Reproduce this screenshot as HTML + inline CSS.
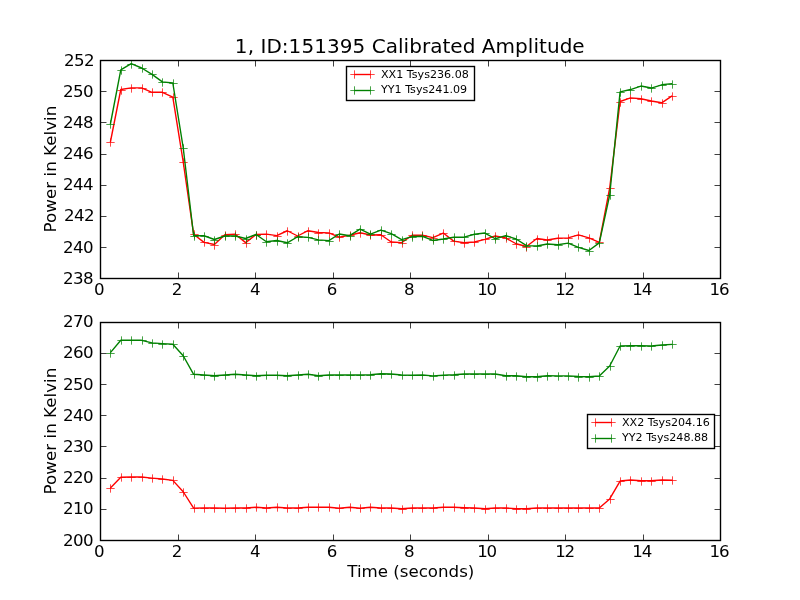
<!DOCTYPE html>
<html><head><meta charset="utf-8"><title>1, ID:151395 Calibrated Amplitude</title>
<style>
html,body{margin:0;padding:0;background:#fff;}
svg{display:block;}
text{font-family:"DejaVu Sans","Liberation Sans",sans-serif;fill:#000;}
.t{font-size:16.67px;}
.n{font-size:16.67px;letter-spacing:-0.6px;}
.l{font-size:11.11px;}
.ti{font-size:20px;letter-spacing:0.045px;}
</style></head><body>
<svg width="800" height="600" viewBox="0 0 800 600">
<rect width="800" height="600" fill="#fff"/>
<text x="409.8" y="53" text-anchor="middle" class="ti">1, ID:151395 Calibrated Amplitude</text>
<polyline fill="none" stroke="#ff0000" stroke-width="1.39" stroke-linejoin="round" points="110.40,142.00 120.80,89.50 131.21,87.90 141.61,87.90 152.01,92.30 162.41,92.30 172.81,97.20 183.21,161.90 193.62,234.25 204.02,242.40 214.42,244.50 224.82,234.75 235.22,234.25 245.63,242.60 256.03,234.50 266.43,234.10 276.83,235.60 287.23,230.75 297.64,236.00 308.04,230.70 318.44,232.50 328.84,232.85 339.24,237.10 349.64,235.30 360.05,232.80 370.45,235.05 380.85,234.80 391.25,242.00 401.65,242.60 412.06,235.25 422.46,235.25 432.86,237.60 443.26,233.05 453.66,241.15 464.07,242.80 474.47,241.95 484.87,239.40 495.27,236.00 505.67,237.90 516.07,243.75 526.48,246.50 536.88,238.55 547.28,240.00 557.68,238.20 568.08,237.90 578.49,234.95 588.89,237.90 599.29,242.30 609.69,188.00 620.09,101.50 630.50,97.90 640.90,98.75 651.30,101.00 661.70,102.80 672.10,95.90"/>
<path fill="none" stroke="#ff0000" stroke-width="0.72" d="M106.33 142.5H114.67M110.5 138.33V146.67M117.33 90.5H125.67M121.5 86.33V94.67M127.33 88.5H135.67M131.5 84.33V92.67M138.33 88.5H146.67M142.5 84.33V92.67M148.33 92.5H156.67M152.5 88.33V96.67M158.33 92.5H166.67M162.5 88.33V96.67M169.33 97.5H177.67M173.5 93.33V101.67M179.33 162.5H187.67M183.5 158.33V166.67M190.33 234.5H198.67M194.5 230.33V238.67M200.33 242.5H208.67M204.5 238.33V246.67M210.33 245.5H218.67M214.5 241.33V249.67M221.33 235.5H229.67M225.5 231.33V239.67M231.33 234.5H239.67M235.5 230.33V238.67M242.33 243.5H250.67M246.5 239.33V247.67M252.33 235.5H260.67M256.5 231.33V239.67M262.33 234.5H270.67M266.5 230.33V238.67M273.33 236.5H281.67M277.5 232.33V240.67M283.33 231.5H291.67M287.5 227.33V235.67M294.33 236.5H302.67M298.5 232.33V240.67M304.33 231.5H312.67M308.5 227.33V235.67M314.33 233.5H322.67M318.5 229.33V237.67M325.33 233.5H333.67M329.5 229.33V237.67M335.33 237.5H343.67M339.5 233.33V241.67M346.33 235.5H354.67M350.5 231.33V239.67M356.33 233.5H364.67M360.5 229.33V237.67M366.33 235.5H374.67M370.5 231.33V239.67M377.33 235.5H385.67M381.5 231.33V239.67M387.33 242.5H395.67M391.5 238.33V246.67M398.33 243.5H406.67M402.5 239.33V247.67M408.33 235.5H416.67M412.5 231.33V239.67M418.33 235.5H426.67M422.5 231.33V239.67M429.33 238.5H437.67M433.5 234.33V242.67M439.33 233.5H447.67M443.5 229.33V237.67M450.33 241.5H458.67M454.5 237.33V245.67M460.33 243.5H468.67M464.5 239.33V247.67M470.33 242.5H478.67M474.5 238.33V246.67M481.33 239.5H489.67M485.5 235.33V243.67M491.33 236.5H499.67M495.5 232.33V240.67M502.33 238.5H510.67M506.5 234.33V242.67M512.33 244.5H520.67M516.5 240.33V248.67M522.33 247.5H530.67M526.5 243.33V251.67M533.33 239.5H541.67M537.5 235.33V243.67M543.33 240.5H551.67M547.5 236.33V244.67M554.33 238.5H562.67M558.5 234.33V242.67M564.33 238.5H572.67M568.5 234.33V242.67M574.33 235.5H582.67M578.5 231.33V239.67M585.33 238.5H593.67M589.5 234.33V242.67M595.33 242.5H603.67M599.5 238.33V246.67M606.33 188.5H614.67M610.5 184.33V192.67M616.33 102.5H624.67M620.5 98.33V106.67M626.33 98.5H634.67M630.5 94.33V102.67M637.33 99.5H645.67M641.5 95.33V103.67M647.33 101.5H655.67M651.5 97.33V105.67M658.33 103.5H666.67M662.5 99.33V107.67M668.33 96.5H676.67M672.5 92.33V100.67"/>
<polyline fill="none" stroke="#008000" stroke-width="1.39" stroke-linejoin="round" points="110.40,124.00 120.80,69.90 131.21,63.70 141.61,68.00 152.01,74.40 162.41,81.90 172.81,83.00 183.21,147.75 193.62,235.50 204.02,235.75 214.42,239.50 224.82,236.00 235.22,236.00 245.63,238.50 256.03,234.50 266.43,241.75 276.83,240.50 287.23,242.80 297.64,236.75 308.04,237.40 318.44,239.85 328.84,240.60 339.24,234.00 349.64,235.70 360.05,229.20 370.45,234.20 380.85,230.05 391.25,233.70 401.65,239.70 412.06,236.55 422.46,236.30 432.86,240.45 443.26,239.05 453.66,237.20 464.07,237.20 474.47,234.25 484.87,233.05 495.27,238.75 505.67,235.60 516.07,239.00 526.48,245.60 536.88,246.00 547.28,244.00 557.68,244.75 568.08,243.10 578.49,247.40 588.89,250.50 599.29,242.85 609.69,195.00 620.09,91.90 630.50,89.55 640.90,86.05 651.30,88.05 661.70,84.80 672.10,83.65"/>
<path fill="none" stroke="#008000" stroke-width="0.72" d="M106.33 124.5H114.67M110.5 120.33V128.67M117.33 70.5H125.67M121.5 66.33V74.67M127.33 64.5H135.67M131.5 60.33V68.67M138.33 68.5H146.67M142.5 64.33V72.67M148.33 74.5H156.67M152.5 70.33V78.67M158.33 82.5H166.67M162.5 78.33V86.67M169.33 83.5H177.67M173.5 79.33V87.67M179.33 148.5H187.67M183.5 144.33V152.67M190.33 236.5H198.67M194.5 232.33V240.67M200.33 236.5H208.67M204.5 232.33V240.67M210.33 240.5H218.67M214.5 236.33V244.67M221.33 236.5H229.67M225.5 232.33V240.67M231.33 236.5H239.67M235.5 232.33V240.67M242.33 239.5H250.67M246.5 235.33V243.67M252.33 235.5H260.67M256.5 231.33V239.67M262.33 242.5H270.67M266.5 238.33V246.67M273.33 241.5H281.67M277.5 237.33V245.67M283.33 243.5H291.67M287.5 239.33V247.67M294.33 237.5H302.67M298.5 233.33V241.67M304.33 237.5H312.67M308.5 233.33V241.67M314.33 240.5H322.67M318.5 236.33V244.67M325.33 241.5H333.67M329.5 237.33V245.67M335.33 234.5H343.67M339.5 230.33V238.67M346.33 236.5H354.67M350.5 232.33V240.67M356.33 229.5H364.67M360.5 225.33V233.67M366.33 234.5H374.67M370.5 230.33V238.67M377.33 230.5H385.67M381.5 226.33V234.67M387.33 234.5H395.67M391.5 230.33V238.67M398.33 240.5H406.67M402.5 236.33V244.67M408.33 237.5H416.67M412.5 233.33V241.67M418.33 236.5H426.67M422.5 232.33V240.67M429.33 240.5H437.67M433.5 236.33V244.67M439.33 239.5H447.67M443.5 235.33V243.67M450.33 237.5H458.67M454.5 233.33V241.67M460.33 237.5H468.67M464.5 233.33V241.67M470.33 234.5H478.67M474.5 230.33V238.67M481.33 233.5H489.67M485.5 229.33V237.67M491.33 239.5H499.67M495.5 235.33V243.67M502.33 236.5H510.67M506.5 232.33V240.67M512.33 239.5H520.67M516.5 235.33V243.67M522.33 246.5H530.67M526.5 242.33V250.67M533.33 246.5H541.67M537.5 242.33V250.67M543.33 244.5H551.67M547.5 240.33V248.67M554.33 245.5H562.67M558.5 241.33V249.67M564.33 243.5H572.67M568.5 239.33V247.67M574.33 247.5H582.67M578.5 243.33V251.67M585.33 251.5H593.67M589.5 247.33V255.67M595.33 243.5H603.67M599.5 239.33V247.67M606.33 195.5H614.67M610.5 191.33V199.67M616.33 92.5H624.67M620.5 88.33V96.67M626.33 90.5H634.67M630.5 86.33V94.67M637.33 86.5H645.67M641.5 82.33V90.67M647.33 88.5H655.67M651.5 84.33V92.67M658.33 85.5H666.67M662.5 81.33V89.67M668.33 84.5H676.67M672.5 80.33V88.67"/>
<polyline fill="none" stroke="#ff0000" stroke-width="1.39" stroke-linejoin="round" points="110.40,487.90 120.80,477.20 131.21,477.00 141.61,477.00 152.01,478.10 162.41,479.05 172.81,480.40 183.21,491.75 193.62,508.10 204.02,508.05 214.42,508.05 224.82,508.20 235.22,508.05 245.63,508.05 256.03,507.30 266.43,508.05 276.83,507.30 287.23,508.05 297.64,508.05 308.04,507.30 318.44,507.30 328.84,507.30 339.24,508.20 349.64,507.30 360.05,508.20 370.45,507.30 380.85,508.00 391.25,508.00 401.65,508.70 412.06,508.00 422.46,508.00 432.86,508.00 443.26,507.30 453.66,507.30 464.07,507.75 474.47,508.00 484.87,508.80 495.27,508.00 505.67,508.00 516.07,508.70 526.48,508.70 536.88,508.00 547.28,508.00 557.68,508.00 568.08,508.00 578.49,508.00 588.89,508.00 599.29,508.00 609.69,498.90 620.09,481.05 630.50,480.05 640.90,480.80 651.30,480.80 661.70,480.05 672.10,480.20"/>
<path fill="none" stroke="#ff0000" stroke-width="0.72" d="M106.33 488.5H114.67M110.5 484.33V492.67M117.33 477.5H125.67M121.5 473.33V481.67M127.33 477.5H135.67M131.5 473.33V481.67M138.33 477.5H146.67M142.5 473.33V481.67M148.33 478.5H156.67M152.5 474.33V482.67M158.33 479.5H166.67M162.5 475.33V483.67M169.33 480.5H177.67M173.5 476.33V484.67M179.33 492.5H187.67M183.5 488.33V496.67M190.33 508.5H198.67M194.5 504.33V512.67M200.33 508.5H208.67M204.5 504.33V512.67M210.33 508.5H218.67M214.5 504.33V512.67M221.33 508.5H229.67M225.5 504.33V512.67M231.33 508.5H239.67M235.5 504.33V512.67M242.33 508.5H250.67M246.5 504.33V512.67M252.33 507.5H260.67M256.5 503.33V511.67M262.33 508.5H270.67M266.5 504.33V512.67M273.33 507.5H281.67M277.5 503.33V511.67M283.33 508.5H291.67M287.5 504.33V512.67M294.33 508.5H302.67M298.5 504.33V512.67M304.33 507.5H312.67M308.5 503.33V511.67M314.33 507.5H322.67M318.5 503.33V511.67M325.33 507.5H333.67M329.5 503.33V511.67M335.33 508.5H343.67M339.5 504.33V512.67M346.33 507.5H354.67M350.5 503.33V511.67M356.33 508.5H364.67M360.5 504.33V512.67M366.33 507.5H374.67M370.5 503.33V511.67M377.33 508.5H385.67M381.5 504.33V512.67M387.33 508.5H395.67M391.5 504.33V512.67M398.33 509.5H406.67M402.5 505.33V513.67M408.33 508.5H416.67M412.5 504.33V512.67M418.33 508.5H426.67M422.5 504.33V512.67M429.33 508.5H437.67M433.5 504.33V512.67M439.33 507.5H447.67M443.5 503.33V511.67M450.33 507.5H458.67M454.5 503.33V511.67M460.33 508.5H468.67M464.5 504.33V512.67M470.33 508.5H478.67M474.5 504.33V512.67M481.33 509.5H489.67M485.5 505.33V513.67M491.33 508.5H499.67M495.5 504.33V512.67M502.33 508.5H510.67M506.5 504.33V512.67M512.33 509.5H520.67M516.5 505.33V513.67M522.33 509.5H530.67M526.5 505.33V513.67M533.33 508.5H541.67M537.5 504.33V512.67M543.33 508.5H551.67M547.5 504.33V512.67M554.33 508.5H562.67M558.5 504.33V512.67M564.33 508.5H572.67M568.5 504.33V512.67M574.33 508.5H582.67M578.5 504.33V512.67M585.33 508.5H593.67M589.5 504.33V512.67M595.33 508.5H603.67M599.5 504.33V512.67M606.33 499.5H614.67M610.5 495.33V503.67M616.33 481.5H624.67M620.5 477.33V485.67M626.33 480.5H634.67M630.5 476.33V484.67M637.33 481.5H645.67M641.5 477.33V485.67M647.33 481.5H655.67M651.5 477.33V485.67M658.33 480.5H666.67M662.5 476.33V484.67M668.33 480.5H676.67M672.5 476.33V484.67"/>
<polyline fill="none" stroke="#008000" stroke-width="1.39" stroke-linejoin="round" points="110.40,352.60 120.80,340.30 131.21,340.30 141.61,340.30 152.01,342.90 162.41,343.60 172.81,344.30 183.21,355.75 193.62,374.30 204.02,375.05 214.42,375.80 224.82,375.05 235.22,374.30 245.63,375.05 256.03,375.80 266.43,375.20 276.83,375.20 287.23,375.80 297.64,375.05 308.04,374.30 318.44,375.80 328.84,375.05 339.24,375.05 349.64,375.05 360.05,375.05 370.45,374.75 380.85,373.70 391.25,374.00 401.65,375.05 412.06,375.30 422.46,375.05 432.86,375.90 443.26,375.20 453.66,374.75 464.07,374.00 474.47,374.00 484.87,374.00 495.27,374.00 505.67,375.80 516.07,375.80 526.48,376.70 536.88,376.70 547.28,375.80 557.68,375.90 568.08,375.90 578.49,376.50 588.89,376.70 599.29,376.00 609.69,366.00 620.09,346.05 630.50,345.70 640.90,345.80 651.30,346.05 661.70,345.05 672.10,344.40"/>
<path fill="none" stroke="#008000" stroke-width="0.72" d="M106.33 353.5H114.67M110.5 349.33V357.67M117.33 340.5H125.67M121.5 336.33V344.67M127.33 340.5H135.67M131.5 336.33V344.67M138.33 340.5H146.67M142.5 336.33V344.67M148.33 343.5H156.67M152.5 339.33V347.67M158.33 344.5H166.67M162.5 340.33V348.67M169.33 344.5H177.67M173.5 340.33V348.67M179.33 356.5H187.67M183.5 352.33V360.67M190.33 374.5H198.67M194.5 370.33V378.67M200.33 375.5H208.67M204.5 371.33V379.67M210.33 376.5H218.67M214.5 372.33V380.67M221.33 375.5H229.67M225.5 371.33V379.67M231.33 374.5H239.67M235.5 370.33V378.67M242.33 375.5H250.67M246.5 371.33V379.67M252.33 376.5H260.67M256.5 372.33V380.67M262.33 375.5H270.67M266.5 371.33V379.67M273.33 375.5H281.67M277.5 371.33V379.67M283.33 376.5H291.67M287.5 372.33V380.67M294.33 375.5H302.67M298.5 371.33V379.67M304.33 374.5H312.67M308.5 370.33V378.67M314.33 376.5H322.67M318.5 372.33V380.67M325.33 375.5H333.67M329.5 371.33V379.67M335.33 375.5H343.67M339.5 371.33V379.67M346.33 375.5H354.67M350.5 371.33V379.67M356.33 375.5H364.67M360.5 371.33V379.67M366.33 375.5H374.67M370.5 371.33V379.67M377.33 374.5H385.67M381.5 370.33V378.67M387.33 374.5H395.67M391.5 370.33V378.67M398.33 375.5H406.67M402.5 371.33V379.67M408.33 375.5H416.67M412.5 371.33V379.67M418.33 375.5H426.67M422.5 371.33V379.67M429.33 376.5H437.67M433.5 372.33V380.67M439.33 375.5H447.67M443.5 371.33V379.67M450.33 375.5H458.67M454.5 371.33V379.67M460.33 374.5H468.67M464.5 370.33V378.67M470.33 374.5H478.67M474.5 370.33V378.67M481.33 374.5H489.67M485.5 370.33V378.67M491.33 374.5H499.67M495.5 370.33V378.67M502.33 376.5H510.67M506.5 372.33V380.67M512.33 376.5H520.67M516.5 372.33V380.67M522.33 377.5H530.67M526.5 373.33V381.67M533.33 377.5H541.67M537.5 373.33V381.67M543.33 376.5H551.67M547.5 372.33V380.67M554.33 376.5H562.67M558.5 372.33V380.67M564.33 376.5H572.67M568.5 372.33V380.67M574.33 377.5H582.67M578.5 373.33V381.67M585.33 377.5H593.67M589.5 373.33V381.67M595.33 376.5H603.67M599.5 372.33V380.67M606.33 366.5H614.67M610.5 362.33V370.67M616.33 346.5H624.67M620.5 342.33V350.67M626.33 346.5H634.67M630.5 342.33V350.67M637.33 346.5H645.67M641.5 342.33V350.67M647.33 346.5H655.67M651.5 342.33V350.67M658.33 345.5H666.67M662.5 341.33V349.67M668.33 344.5H676.67M672.5 340.33V348.67"/>
<rect x="100.5" y="60.5" width="620.0" height="218.0" fill="none" stroke="#000" stroke-width="1.39"/>
<path stroke="#000" stroke-width="0.75" fill="none" d="M178.5 278.5v-6.0M178.5 60.5v6.0M255.5 278.5v-6.0M255.5 60.5v6.0M333.5 278.5v-6.0M333.5 60.5v6.0M410.5 278.5v-6.0M410.5 60.5v6.0M488.5 278.5v-6.0M488.5 60.5v6.0M565.5 278.5v-6.0M565.5 60.5v6.0M643.5 278.5v-6.0M643.5 60.5v6.0M100.5 247.5h6.0M720.5 247.5h-6.0M100.5 216.5h6.0M720.5 216.5h-6.0M100.5 185.5h6.0M720.5 185.5h-6.0M100.5 154.5h6.0M720.5 154.5h-6.0M100.5 122.5h6.0M720.5 122.5h-6.0M100.5 91.5h6.0M720.5 91.5h-6.0"/>
<text x="99.10" y="295.40" text-anchor="middle" class="n">0</text>
<text x="176.80" y="295.40" text-anchor="middle" class="n">2</text>
<text x="254.90" y="295.40" text-anchor="middle" class="n">4</text>
<text x="331.80" y="295.40" text-anchor="middle" class="n">6</text>
<text x="408.90" y="295.40" text-anchor="middle" class="n">8</text>
<text x="486.60" y="295.40" text-anchor="middle" class="n" style="letter-spacing:-1.25px">10</text>
<text x="564.60" y="295.40" text-anchor="middle" class="n" style="letter-spacing:-1.25px">12</text>
<text x="641.70" y="295.40" text-anchor="middle" class="n" style="letter-spacing:-1.25px">14</text>
<text x="718.90" y="295.40" text-anchor="middle" class="n" style="letter-spacing:-1.25px">16</text>
<text x="93.1" y="284.10" text-anchor="end" class="n">238</text>
<text x="93.1" y="253.10" text-anchor="end" class="n">240</text>
<text x="94" y="221.10" text-anchor="end" class="n">242</text>
<text x="93.1" y="190.10" text-anchor="end" class="n">244</text>
<text x="93.1" y="159.10" text-anchor="end" class="n">246</text>
<text x="93.1" y="128.10" text-anchor="end" class="n">248</text>
<text x="93.1" y="97.10" text-anchor="end" class="n">250</text>
<text x="94" y="66.10" text-anchor="end" class="n">252</text>
<rect x="100.5" y="322.5" width="620.0" height="218.0" fill="none" stroke="#000" stroke-width="1.39"/>
<path stroke="#000" stroke-width="0.75" fill="none" d="M178.5 540.5v-6.0M178.5 322.5v6.0M255.5 540.5v-6.0M255.5 322.5v6.0M333.5 540.5v-6.0M333.5 322.5v6.0M410.5 540.5v-6.0M410.5 322.5v6.0M488.5 540.5v-6.0M488.5 322.5v6.0M565.5 540.5v-6.0M565.5 322.5v6.0M643.5 540.5v-6.0M643.5 322.5v6.0M100.5 509.5h6.0M720.5 509.5h-6.0M100.5 478.5h6.0M720.5 478.5h-6.0M100.5 446.5h6.0M720.5 446.5h-6.0M100.5 415.5h6.0M720.5 415.5h-6.0M100.5 384.5h6.0M720.5 384.5h-6.0M100.5 353.5h6.0M720.5 353.5h-6.0"/>
<text x="99.10" y="557.40" text-anchor="middle" class="n">0</text>
<text x="176.80" y="557.40" text-anchor="middle" class="n">2</text>
<text x="254.90" y="557.40" text-anchor="middle" class="n">4</text>
<text x="331.80" y="557.40" text-anchor="middle" class="n">6</text>
<text x="408.90" y="557.40" text-anchor="middle" class="n">8</text>
<text x="486.60" y="557.40" text-anchor="middle" class="n" style="letter-spacing:-1.25px">10</text>
<text x="564.60" y="557.40" text-anchor="middle" class="n" style="letter-spacing:-1.25px">12</text>
<text x="641.70" y="557.40" text-anchor="middle" class="n" style="letter-spacing:-1.25px">14</text>
<text x="718.90" y="557.40" text-anchor="middle" class="n" style="letter-spacing:-1.25px">16</text>
<text x="93.1" y="546.10" text-anchor="end" class="n">200</text>
<text x="93.1" y="514.10" text-anchor="end" class="n">210</text>
<text x="93.1" y="483.10" text-anchor="end" class="n">220</text>
<text x="93.1" y="452.10" text-anchor="end" class="n">230</text>
<text x="93.1" y="421.10" text-anchor="end" class="n">240</text>
<text x="93.1" y="390.10" text-anchor="end" class="n">250</text>
<text x="93.1" y="358.10" text-anchor="end" class="n">260</text>
<text x="93.1" y="327.10" text-anchor="end" class="n">270</text>
<text x="410.8" y="577" text-anchor="middle" class="t">Time (seconds)</text>
<text transform="translate(56,169) rotate(-90)" text-anchor="middle" class="t" style="letter-spacing:0.04px">Power in Kelvin</text>
<text transform="translate(56,431) rotate(-90)" text-anchor="middle" class="t" style="letter-spacing:0.04px">Power in Kelvin</text>
<rect x="346.5" y="66.5" width="128" height="34" fill="#fff" stroke="#000" stroke-width="1.39"/>
<path stroke="#ff0000" stroke-width="1.39" fill="none" d="M354.5 74.5H370.5"/>
<path stroke="#ff0000" stroke-width="0.72" fill="none" d="M350.3 74.5H374.7M354.5 70.3V78.7M370.5 70.3V78.7"/>
<text x="381.0" y="78.1" class="l">XX1 Tsys236.08</text>
<path stroke="#008000" stroke-width="1.39" fill="none" d="M354.5 90.5H370.5"/>
<path stroke="#008000" stroke-width="0.72" fill="none" d="M350.3 90.5H374.7M354.5 86.3V94.7M370.5 86.3V94.7"/>
<text x="381.0" y="93.1" class="l">YY1 Tsys241.09</text>
<rect x="587.5" y="414.5" width="127" height="34" fill="#fff" stroke="#000" stroke-width="1.39"/>
<path stroke="#ff0000" stroke-width="1.39" fill="none" d="M595.5 422.5H611.5"/>
<path stroke="#ff0000" stroke-width="0.72" fill="none" d="M591.3 422.5H615.7M595.5 418.3V426.7M611.5 418.3V426.7"/>
<text x="622.0" y="426.1" class="l">XX2 Tsys204.16</text>
<path stroke="#008000" stroke-width="1.39" fill="none" d="M595.5 438.5H611.5"/>
<path stroke="#008000" stroke-width="0.72" fill="none" d="M591.3 438.5H615.7M595.5 434.3V442.7M611.5 434.3V442.7"/>
<text x="622.0" y="441.1" class="l">YY2 Tsys248.88</text>
</svg>
</body></html>
